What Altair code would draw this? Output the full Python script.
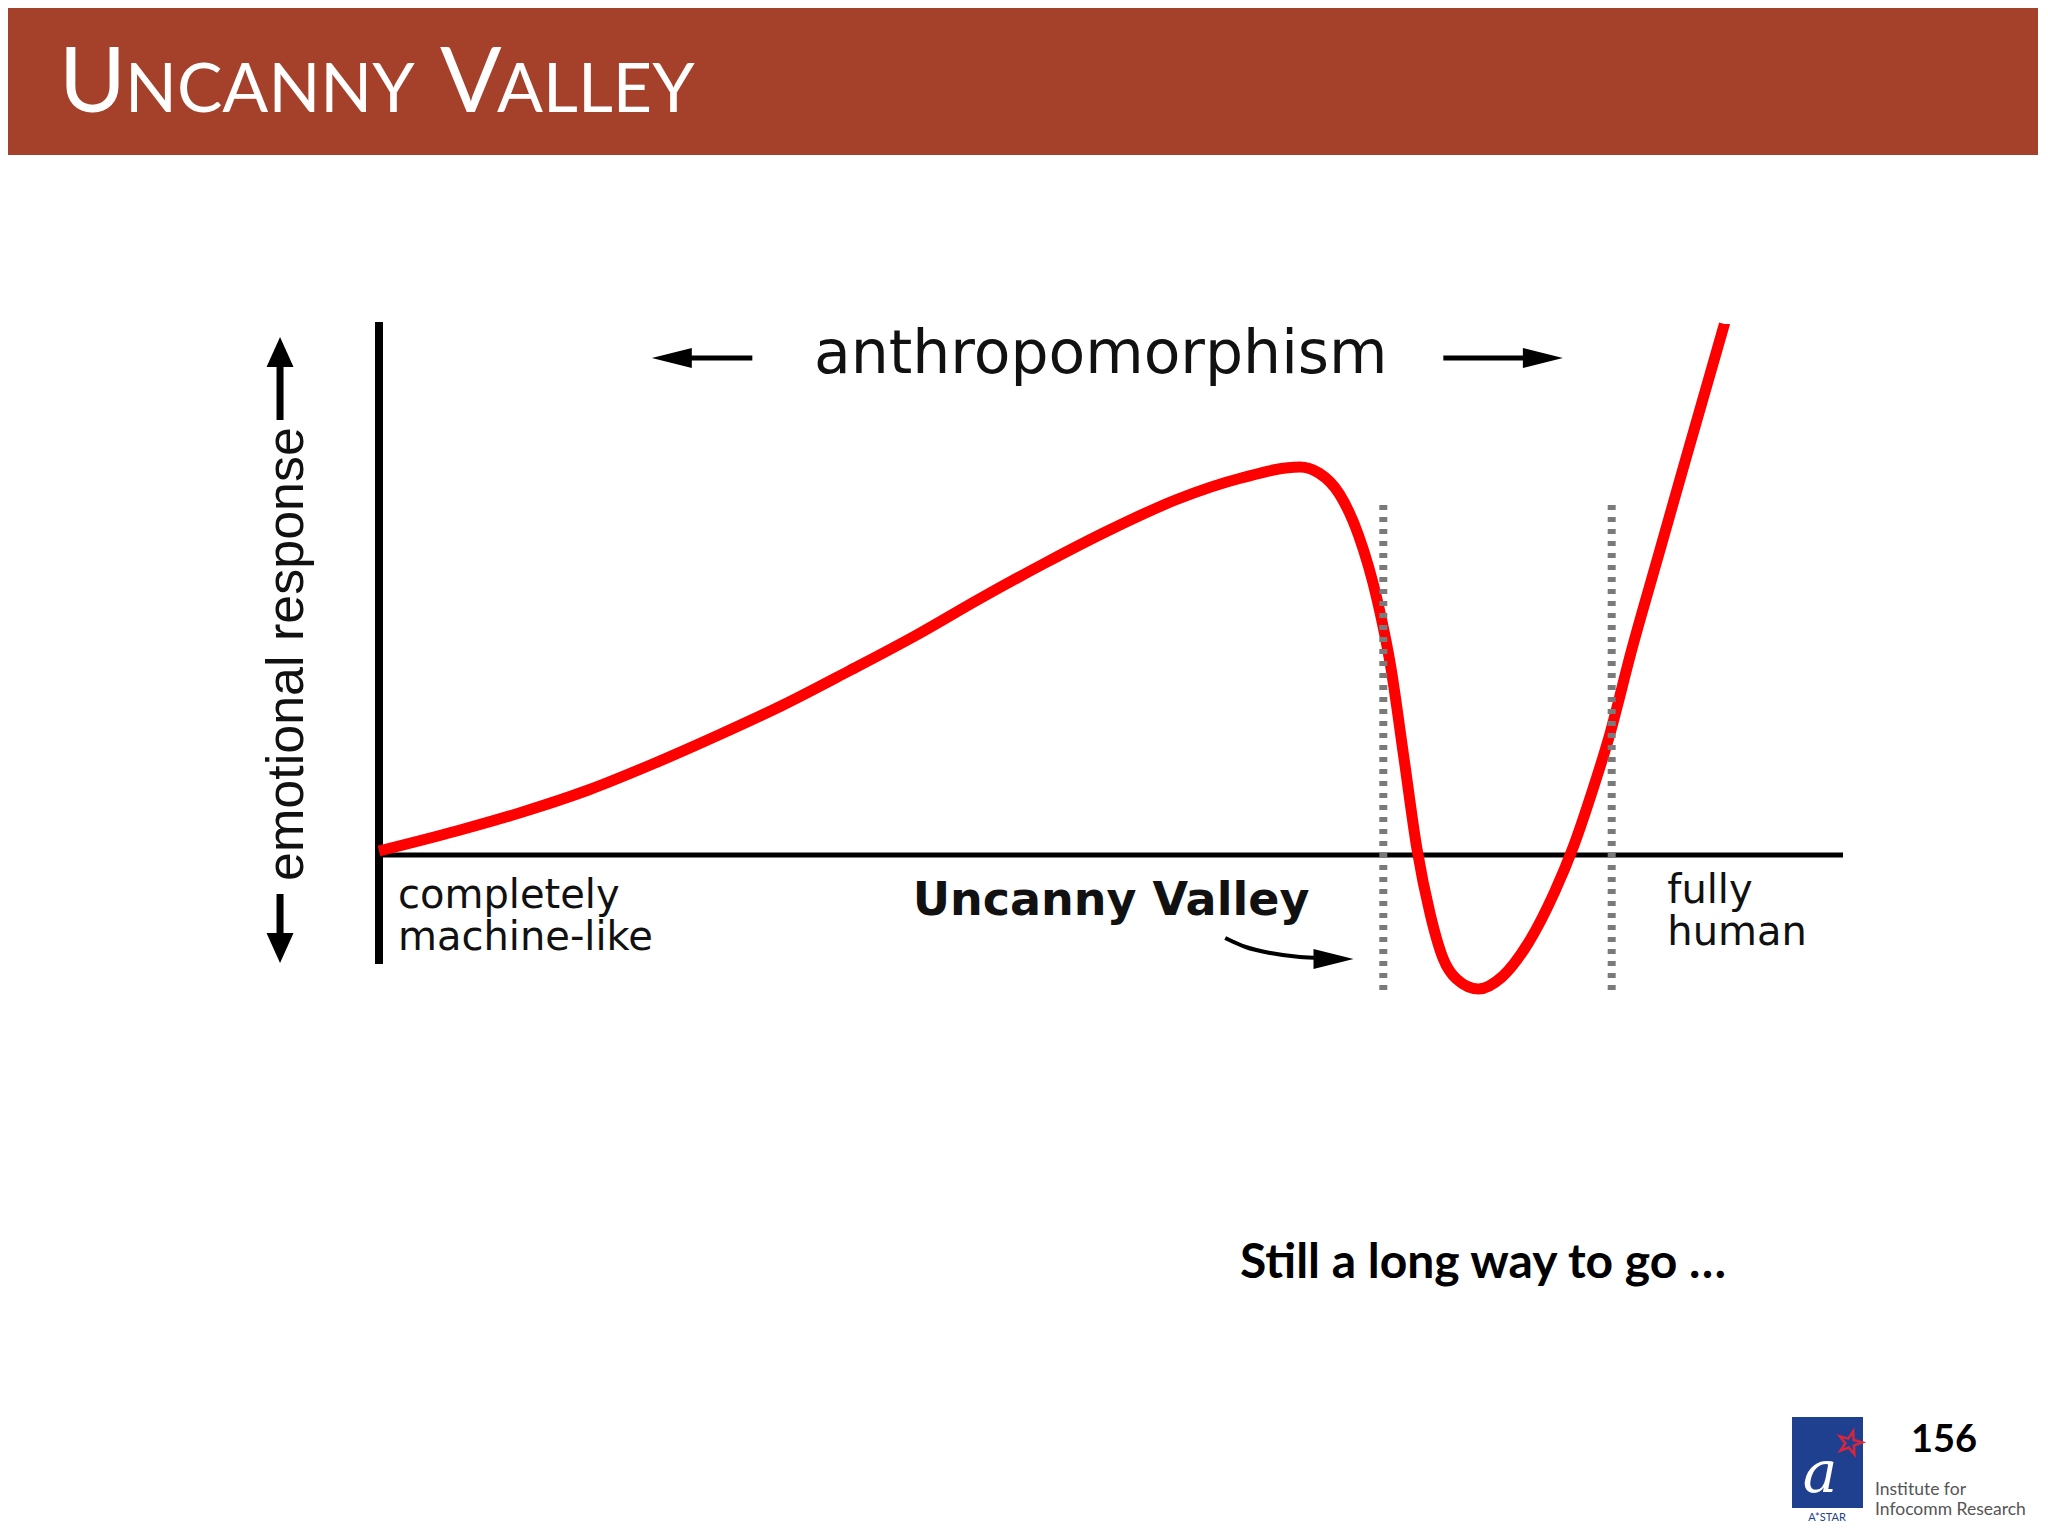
import altair as alt
import pandas as pd

W, H = 2030, 1514

# ---- chart data: x = 0 (completely machine-like) .. 100 (fully human), y = emotional response ----
curve_x = [0, 5.3, 9.8, 14.3, 18.7, 23.2, 27.6, 32.1, 36.6, 41.0, 45.5, 49.9, 54.4, 58.9,
           62.9, 64.2, 65.6, 66.9, 68.2, 69.1, 70.0, 70.9, 71.8, 72.7, 73.6, 75.1, 76.7,
           78.5, 80.3, 81.6, 82.9, 84.0, 85.6, 87.4, 89.2, 91.9]
curve_y = [0.04, 0.24, 0.43, 0.65, 0.91, 1.20, 1.50, 1.84, 2.19, 2.56, 2.92, 3.25, 3.55, 3.77,
           3.88, 3.82, 3.61, 3.20, 2.54, 1.89, 0.98, 0.06, -0.59, -1.04, -1.24, -1.34, -1.22,
           -0.88, -0.37, 0.09, 0.65, 1.17, 2.07, 3.00, 3.93, 5.31]

axis_x_extent = [0, 100]
axis_y_extent = [-1.09, 5.33]
valley_x = [68.6, 84.2]
valley_y = [-1.35, 3.56]

# annotation arrows (data units)
anthro_shaft_x = [20.3, 25.5, 72.7, 79.0]
anthro_y = 4.97
anthro_heads_x = [20.0, 79.5]
ylab_arrow_x = -6.76
ylab_up = [4.35, 4.89, 5.03]
ylab_down = [-0.39, -0.83, -0.93]
valley_arrow_x = [57.8, 59.2, 60.9, 62.9, 64.3]
valley_arrow_y = [-0.83, -0.92, -0.98, -1.02, -1.03]
valley_head = [65.2, -1.04]

# texts
title_parts = ["U", "NCANNY", "V", "ALLEY"]
footer_text = "Still a long way to go …"
page_number = "156"
institute = ["Institute for", "Infocomm Research"]

xs = alt.Scale(domain=[0, 100], range=[371, 1835], nice=False, zero=False)
ys = alt.Scale(domain=[-1.5, 5.5], range=[997, 297], nice=False, zero=False)


def X(f="x"):
    return alt.X(f"{f}:Q", scale=xs, axis=None)


def Y(f="y"):
    return alt.Y(f"{f}:Q", scale=ys, axis=None)


one = pd.DataFrame({"k": [0]})

LEFT = "M -1 0 L 1 -0.5 L 1 0.5 Z"
RIGHT = "M 1 0 L -1 -0.5 L -1 0.5 Z"
UP = "M 0 -1 L 0.9 1 L -0.9 1 Z"
DOWN = "M 0 1 L 0.9 -1 L -0.9 -1 Z"
STAR = ("M 0 -1 L 0.223 -0.307 L 0.951 -0.309 L 0.361 0.117 L 0.588 0.809 L 0 0.38 "
        "L -0.588 0.809 L -0.361 0.117 L -0.951 -0.309 L -0.223 -0.307 Z")

layers = []

# title bar
layers.append(alt.Chart(one).mark_rect(color="#A5412A").encode(
    x=alt.value(0), x2=alt.value(W), y=alt.value(0), y2=alt.value(147)))
title_pos = [(51, 91), (117, 68), (432, 91), (489, 68)]
for txt, (px, fs) in zip(title_parts, title_pos):
    layers.append(alt.Chart(one).mark_text(
        text=txt, x=px, y=104, align="left", baseline="alphabetic",
        font="Lato", fontSize=fs, color="white"))

# axes
layers.append(alt.Chart(pd.DataFrame({"x": [0], "y": [axis_y_extent[0]], "y2": [axis_y_extent[1]]}))
              .mark_rule(color="black", strokeWidth=8)
              .encode(x=X(), y=Y(), y2="y2:Q"))
layers.append(alt.Chart(pd.DataFrame({"x": [axis_x_extent[0]], "x2": [axis_x_extent[1]], "y": [0]}))
              .mark_rule(color="black", strokeWidth=5)
              .encode(x=X(), x2="x2:Q", y=Y()))

# curve
layers.append(alt.Chart(pd.DataFrame({"x": curve_x, "y": curve_y}))
              .mark_line(color="#FF0000", strokeWidth=11, interpolate="monotone", strokeCap="butt")
              .encode(x=X(), y=Y()))

# valley boundaries (dotted)
layers.append(alt.Chart(pd.DataFrame({"x": valley_x, "y": [valley_y[0]] * 2, "y2": [valley_y[1]] * 2}))
              .mark_rule(color="#7a7a7a", strokeWidth=8, strokeDash=[5, 7])
              .encode(x=X(), y=Y(), y2="y2:Q"))

# anthropomorphism arrows
layers.append(alt.Chart(pd.DataFrame({"x": anthro_shaft_x[0::2], "x2": anthro_shaft_x[1::2],
                                      "y": [anthro_y] * 2}))
              .mark_rule(color="black", strokeWidth=5)
              .encode(x=X(), x2="x2:Q", y=Y()))
for hx, shp in zip(anthro_heads_x, [LEFT, RIGHT]):
    layers.append(alt.Chart(pd.DataFrame({"x": [hx], "y": [anthro_y]}))
                  .mark_point(shape=shp, size=1600, filled=True, color="black", opacity=1)
                  .encode(x=X(), y=Y()))

# y-label arrows
layers.append(alt.Chart(pd.DataFrame({"x": [ylab_arrow_x] * 2, "y": [ylab_up[0], ylab_down[0]],
                                      "y2": [ylab_up[1], ylab_down[1]]}))
              .mark_rule(color="black", strokeWidth=7)
              .encode(x=X(), y=Y(), y2="y2:Q"))
for hy, shp in [(ylab_up[2], UP), (ylab_down[2], DOWN)]:
    layers.append(alt.Chart(pd.DataFrame({"x": [ylab_arrow_x], "y": [hy]}))
                  .mark_point(shape=shp, size=900, filled=True, color="black", opacity=1)
                  .encode(x=X(), y=Y()))

# uncanny valley pointer
layers.append(alt.Chart(pd.DataFrame({"x": valley_arrow_x, "y": valley_arrow_y}))
              .mark_line(color="black", strokeWidth=4, interpolate="monotone")
              .encode(x=X(), y=Y()))
layers.append(alt.Chart(pd.DataFrame({"x": [valley_head[0]], "y": [valley_head[1]]}))
              .mark_point(shape=RIGHT, size=1600, filled=True, color="black", opacity=1)
              .encode(x=X(), y=Y()))

# chart labels
labels = pd.DataFrame({
    "x": [49.3, 50.0, 1.3, 88.0],
    "y": [4.82, -0.60, -0.53, -0.48],
    "text": ["anthropomorphism", "Uncanny Valley", "completely\nmachine-like", "fully\nhuman"],
})
layers.append(alt.Chart(labels.iloc[[0]]).mark_text(
    font="DejaVu Sans", fontSize=60, align="center", baseline="alphabetic", color="#111111")
    .encode(x=X(), y=Y(), text="text:N"))
layers.append(alt.Chart(labels.iloc[[1]]).mark_text(
    font="DejaVu Sans", fontSize=46, fontWeight="bold", align="center", baseline="alphabetic",
    color="#111111").encode(x=X(), y=Y(), text="text:N"))
layers.append(alt.Chart(labels.iloc[[2]]).mark_text(
    font="DejaVu Sans", fontSize=40, align="left", baseline="alphabetic", lineBreak="\n",
    lineHeight=42, color="#111111").encode(x=X(), y=Y(), text="text:N"))
layers.append(alt.Chart(labels.iloc[[3]]).mark_text(
    font="DejaVu Sans", fontSize=40, align="left", baseline="alphabetic", lineBreak="\n",
    lineHeight=42, color="#111111").encode(x=X(), y=Y(), text="text:N"))
layers.append(alt.Chart(pd.DataFrame({"x": [-6.28], "y": [2.01], "text": ["emotional response"]}))
              .mark_text(font="Liberation Sans", fontSize=52, angle=270, align="center",
                         baseline="middle", color="#111111")
              .encode(x=X(), y=Y(), text="text:N"))

# slide footer
layers.append(alt.Chart(one).mark_text(
    text=footer_text, x=1232, y=1270, align="left", baseline="alphabetic",
    font="Lato", fontWeight="bold", fontSize=48, color="black"))
layers.append(alt.Chart(one).mark_text(
    text=page_number, x=1903, y=1444, align="left", baseline="alphabetic",
    font="Lato", fontWeight="bold", fontSize=38, color="black"))
for txt, yy in zip(institute, [1487, 1507]):
    layers.append(alt.Chart(one).mark_text(
        text=txt, x=1867, y=yy, align="left", baseline="alphabetic",
        font="Lato", fontSize=17.5, color="#555555"))

# logo
layers.append(alt.Chart(one).mark_rect(color="#1F3F8F").encode(
    x=alt.value(1784), x2=alt.value(1855), y=alt.value(1409), y2=alt.value(1500)))
layers.append(alt.Chart(one).mark_text(
    text="a", x=1812, y=1484, align="center", baseline="alphabetic",
    font="DejaVu Serif", fontStyle="italic", fontSize=58, color="white"))
layers.append(alt.Chart(one).mark_point(
    shape=STAR, size=600, filled=False, color="#D7263D", strokeWidth=2.5, angle=15, opacity=1).encode(
    x=alt.value(1842), y=alt.value(1435)))
layers.append(alt.Chart(one).mark_text(
    text="A*STAR", x=1819, y=1513, align="center", baseline="alphabetic",
    font="Lato", fontSize=11, color="#1F3F8F"))

chart = alt.layer(*layers).properties(
    width=W, height=H, padding=0,
    autosize=alt.AutoSizeParams(type="none"),
    background="white",
).configure_view(strokeWidth=0)

chart.save("out.html", embed_options={"renderer": "svg", "actions": False})
